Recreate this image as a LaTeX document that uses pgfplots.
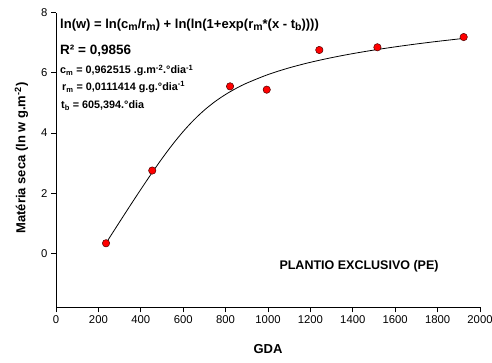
\documentclass[border=0pt]{standalone}
\usepackage{pgfplots}
\pgfplotsset{compat=1.18}
\usepackage{fontspec}
\setmainfont{Liberation Sans}
\newcommand{\sub}[1]{\raisebox{-0.35ex}{\fontsize{10.5}{12}\selectfont #1}}
\pgfplotstableread{
x y
236 0.33
454 2.75
821 5.55
994 5.44
1242 6.76
1516 6.85
1923 7.19
}\obs
\pgfplotstableread{
x y
236 0.3347
250 0.4901
300 1.0397
350 1.5850
400 2.1223
450 2.6449
500 3.1472
550 3.6183
600 4.0488
650 4.4307
700 4.7613
750 5.0429
800 5.2815
850 5.4845
900 5.6586
1000 5.9425
1100 6.1663
1200 6.3499
1300 6.5052
1400 6.6397
1500 6.7582
1600 6.8642
1700 6.9600
1800 7.0474
1923 7.1454
}\fit
\begin{document}
\begin{tikzpicture}[x=1pt,y=1pt]
\useasboundingbox (0,0) rectangle (492,362);
\begin{axis}[
  at={(56pt,54.7pt)}, anchor=south west,
  scale only axis, width=424pt, height=294.6pt,
  xmin=0, xmax=2000, ymin=-1.8, ymax=8,
  axis x line*=bottom, axis y line*=left,
  xtick={0,200,...,2000}, ytick={0,2,4,6,8},
  tick align=outside, major tick length=5pt,
  tick style={black, line width=0.9pt},
  axis line style={line width=0.9pt},
  ticklabel style={font=\fontsize{11.3}{13}\selectfont},
  /pgf/number format/assume math mode=true,
  /pgf/number format/1000 sep={},
  clip=false,
]
\addplot[black, line width=0.8pt, smooth, no marks] table {\fit};
\addplot[only marks, mark=*, mark size=3.7pt, mark options={fill=red, draw=black!70!red, line width=0.5pt}] table {\obs};
\end{axis}
\begin{scope}[every node/.style={inner sep=0pt, font=\bfseries}]
\node[anchor=base west, font=\fontsize{13}{15}\bfseries\selectfont] at (60,333.7) {ln(w) = ln(c\sub{m}/r\sub{m}) + ln(ln(1+exp(r\sub{m}*(x - t\sub{b}))))};
\node[anchor=base west, font=\fontsize{13.5}{15}\bfseries\selectfont] at (60,307) {R² = 0,9856};
\node[anchor=base west, font=\fontsize{10.8}{12}\bfseries\selectfont] at (60,288) {c\textsubscript{m} = 0,962515 .g.m\textsuperscript{-2}.°dia\textsuperscript{-1}};
\node[anchor=base west, font=\fontsize{10.8}{12}\bfseries\selectfont] at (62,271.3) {r\textsubscript{m} = 0,0111414 g.g.°dia\textsuperscript{-1}};
\node[anchor=base west, font=\fontsize{10.8}{12}\bfseries\selectfont] at (61,253) {t\textsubscript{b} = 605,394.°dia};
\node[anchor=base west, font=\fontsize{12.5}{14}\bfseries\selectfont] at (279.3,92.7) {PLANTIO EXCLUSIVO (PE)};
\node[anchor=base, font=\fontsize{13}{15}\bfseries\selectfont] at (268,9) {GDA};
\node[rotate=90, anchor=center, font=\fontsize{13}{15}\bfseries\selectfont] at (21.5,204) {Matéria seca (ln w g.m\textsuperscript{-2})};
\end{scope}
\end{tikzpicture}
\end{document}
